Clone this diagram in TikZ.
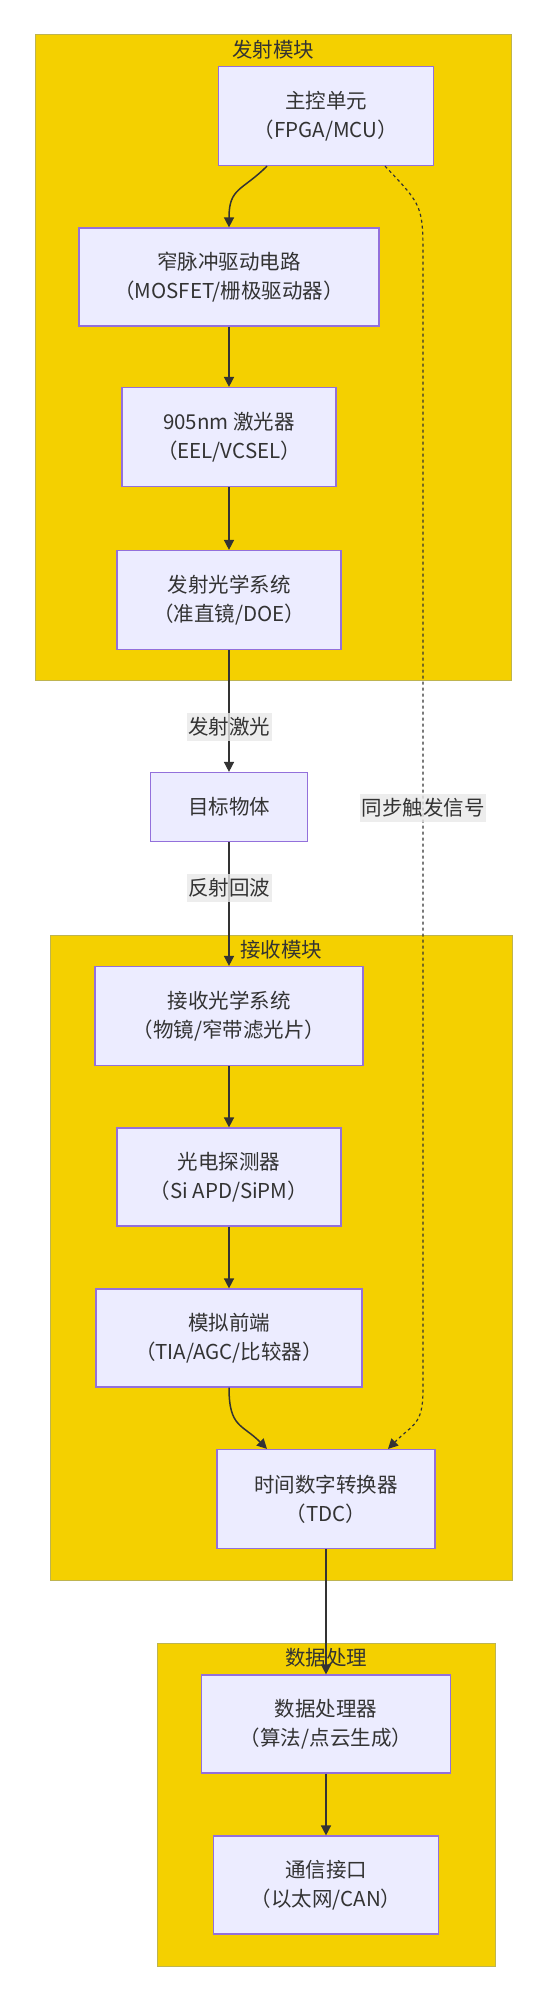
\documentclass[tikz,border=0pt]{standalone}
\usepackage{fontspec}
\setmainfont{Noto Sans CJK SC}
\usetikzlibrary{arrows.meta}

\definecolor{grpfill}{RGB}{244,208,0}
\definecolor{grpline}{RGB}{190,180,80}
\definecolor{nodefill}{HTML}{ECECFF}
\definecolor{nodeline}{HTML}{9370DB}
\definecolor{ink}{HTML}{333333}
\definecolor{lblfill}{HTML}{E8E8E8}

\tikzset{
  grp/.style={fill=grpfill,draw=grpline,line width=1pt},
  grptitle/.style={text=ink,inner sep=0pt},
  blk/.style={draw=nodeline,fill=nodefill,line width=1.2pt,align=center,text=ink,inner sep=0pt},
  flow/.style={draw=ink,line width=1.5pt,-{Triangle[length=10pt,width=10pt]}},
  sync/.style={flow,line width=1.2pt,dash pattern=on 3pt off 3pt},
  lbl/.style={fill=lblfill,fill opacity=0.8,text opacity=1,text=ink,inner xsep=1.5pt,inner ysep=4.5pt}
}

\begin{document}
\begin{tikzpicture}[x=1pt,y=-1pt,font=\fontsize{20.5}{29}\selectfont]

  \useasboundingbox (0,0) rectangle (544,2000);

  \draw[grp] (35,34) rectangle (511,680);
  \draw[grp] (50,935) rectangle (512,1580);
  \draw[grp] (157,1643) rectangle (495,1966);
  \draw (273,50) node[grptitle] (txtitle) {发射模块};
  \draw (281,950) node[grptitle] (rxtitle) {接收模块};
  \draw (326,1658) node[grptitle] (dptitle) {数据处理};

  \draw (326,116) node[blk,minimum width=215pt,minimum height=99pt] (main) {主控单元\\（FPGA/MCU）};
  \draw (229,277) node[blk,minimum width=300pt,minimum height=98pt] (drv) {窄脉冲驱动电路\\（MOSFET/栅极驱动器）};
  \draw (229,437) node[blk,minimum width=214pt,minimum height=99pt] (laser) {905nm 激光器\\（EEL/VCSEL）};
  \draw (229,600) node[blk,minimum width=224pt,minimum height=99pt] (txopt) {发射光学系统\\（准直镜/DOE）};
  \draw (229,807) node[blk,minimum width=157pt,minimum height=69pt] (target) {目标物体};
  \draw (229,1016) node[blk,minimum width=268pt,minimum height=99pt] (rxopt) {接收光学系统\\（物镜/窄带滤光片）};
  \draw (229,1177) node[blk,minimum width=224pt,minimum height=98pt] (pd) {光电探测器\\（Si APD/SiPM）};
  \draw (229,1338) node[blk,minimum width=266pt,minimum height=98pt] (afe) {模拟前端\\（TIA/AGC/比较器）};
  \draw (326,1499) node[blk,minimum width=218pt,minimum height=99pt] (tdc) {时间数字转换器\\（TDC）};
  \draw (326,1724) node[blk,minimum width=249pt,minimum height=98pt] (dsp) {数据处理器\\（算法/点云生成）};
  \draw (326,1885) node[blk,minimum width=225pt,minimum height=98pt] (comm) {通信接口\\（以太网/CAN）};

  \draw[flow] ([xshift=-59pt]main.south) .. controls +(-25,25) and +(0,-40) .. (drv.north);
  \draw[flow] (drv) -- (laser);
  \draw[flow] (laser) -- (txopt);
  \draw[flow] (txopt) -- node[lbl,pos=0.63] (lblemit) {发射激光} (target);
  \draw[flow] (target) -- node[lbl,pos=0.37] (lblecho) {反射回波} (rxopt);
  \draw[flow] (rxopt) -- (pd);
  \draw[flow] (pd) -- (afe);
  \draw[flow] (afe.south) .. controls +(0,40) and +(-25,-25) .. ([xshift=-59pt]tdc.north);
  \draw[flow] (tdc) -- (dsp);
  \draw[flow] (dsp) -- (comm);

  \coordinate (synctop) at (423,260);
  \coordinate (syncbot) at (423,1390);
  \draw[sync] ([xshift=59pt]main.south) .. controls +(38,40) .. (synctop)
    -- node[lbl,pos=0.485] (lblsync) {同步触发信号} (syncbot)
    .. controls +(0,35) and +(25,-25) .. ([xshift=62pt]tdc.north);

\end{tikzpicture}
\end{document}
